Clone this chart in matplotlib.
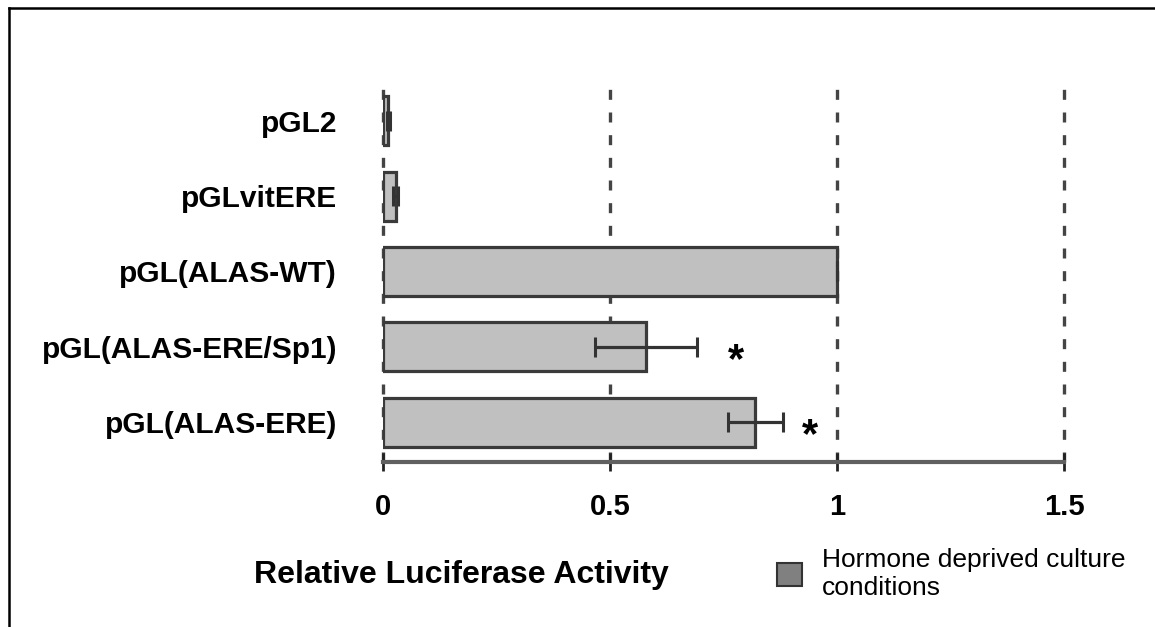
import matplotlib
matplotlib.use("Agg")
import matplotlib.pyplot as plt
from matplotlib.patches import Patch
from matplotlib.lines import Line2D

plt.rcParams['font.family'] = ['Liberation Sans', 'DejaVu Sans']

# ---- data ----
categories = ["pGL(ALAS-ERE)", "pGL(ALAS-ERE/Sp1)", "pGL(ALAS-WT)", "pGLvitERE", "pGL2"]
values = [0.82, 0.58, 1.00, 0.028, 0.012]
errors = [0.06, 0.112, 0.0, 0.006, 0.003]
significant = [True, True, False, False, False]
xticks = [0, 0.5, 1, 1.5]
xtick_labels = ["0", "0.5", "1", "1.5"]
xlabel = "Relative Luciferase Activity"
legend_label = "Hormone deprived culture\nconditions"

W, H = 1155, 627
fig = plt.figure(figsize=(W / 100, H / 100), dpi=100)
ax = fig.add_axes([383 / W, 1 - 462 / H, (1064 - 383) / W, (462 - 77) / H])

ypos = list(range(len(categories)))
ax.barh(ypos, values, height=0.65, color="#c0c0c0", edgecolor="#3a3a3a",
        linewidth=2.3, zorder=3)
ax.errorbar(values, ypos, xerr=errors, fmt="none", ecolor="#333333",
            elinewidth=2.3, capsize=7, capthick=2.2, zorder=4)

star_offsets = [14, 22]
k = 0
for v, e, y, s in zip(values, errors, ypos, significant):
    if s:
        ax.annotate("*", xy=(v + e, y), xytext=(star_offsets[k], -10),
                    textcoords="offset points", ha="left", va="center",
                    fontsize=30, fontweight="bold", color="black", zorder=5)
        k += 1

ax.set_xlim(0, 1.5)
ax.set_ylim(-0.53, 4.58)
ax.set_xticks(xticks)
ax.set_xticklabels(xtick_labels, fontsize=21, fontweight="bold")
ax.set_yticks(ypos)
ax.set_yticklabels(categories, fontsize=21.5, fontweight="bold")
ax.tick_params(axis="y", length=0, pad=33)
ax.tick_params(axis="x", direction="inout", length=13, width=2, color="#222222", pad=16)

for sp in ["top", "right", "left"]:
    ax.spines[sp].set_visible(False)
ax.spines["bottom"].set_color("#606060")
ax.spines["bottom"].set_linewidth(3)
ax.spines["bottom"].set_zorder(2)

ax.xaxis.grid(True, color="#444444", linewidth=2.4, linestyle=(0, (3.0, 3.8)), zorder=0)
ax.set_axisbelow(True)
for gl in ax.get_xgridlines():
    gl.set_clip_on(False)

fig.text(461 / W, 1 - 583 / H, xlabel, ha="center", va="baseline",
         fontsize=23, fontweight="bold")

handle = Patch(facecolor="#808080", edgecolor="#333333", linewidth=1.5)
fig.legend(handles=[handle], labels=[legend_label], loc="upper left",
           bbox_to_anchor=(777 / W, 1 - 548 / H), frameon=False, fontsize=19,
           handlelength=0.95, handleheight=0.95, handletextpad=0.75,
           borderpad=0, borderaxespad=0, labelspacing=0.2)

fig.add_artist(Line2D([9 / W, 1], [1 - 7.5 / H, 1 - 7.5 / H], color="black", lw=1.8,
                      transform=fig.transFigure))
fig.add_artist(Line2D([9 / W, 9 / W], [0, 1 - 7.5 / H], color="black", lw=1.8,
                      transform=fig.transFigure))

fig.savefig("out.png", dpi=100)
